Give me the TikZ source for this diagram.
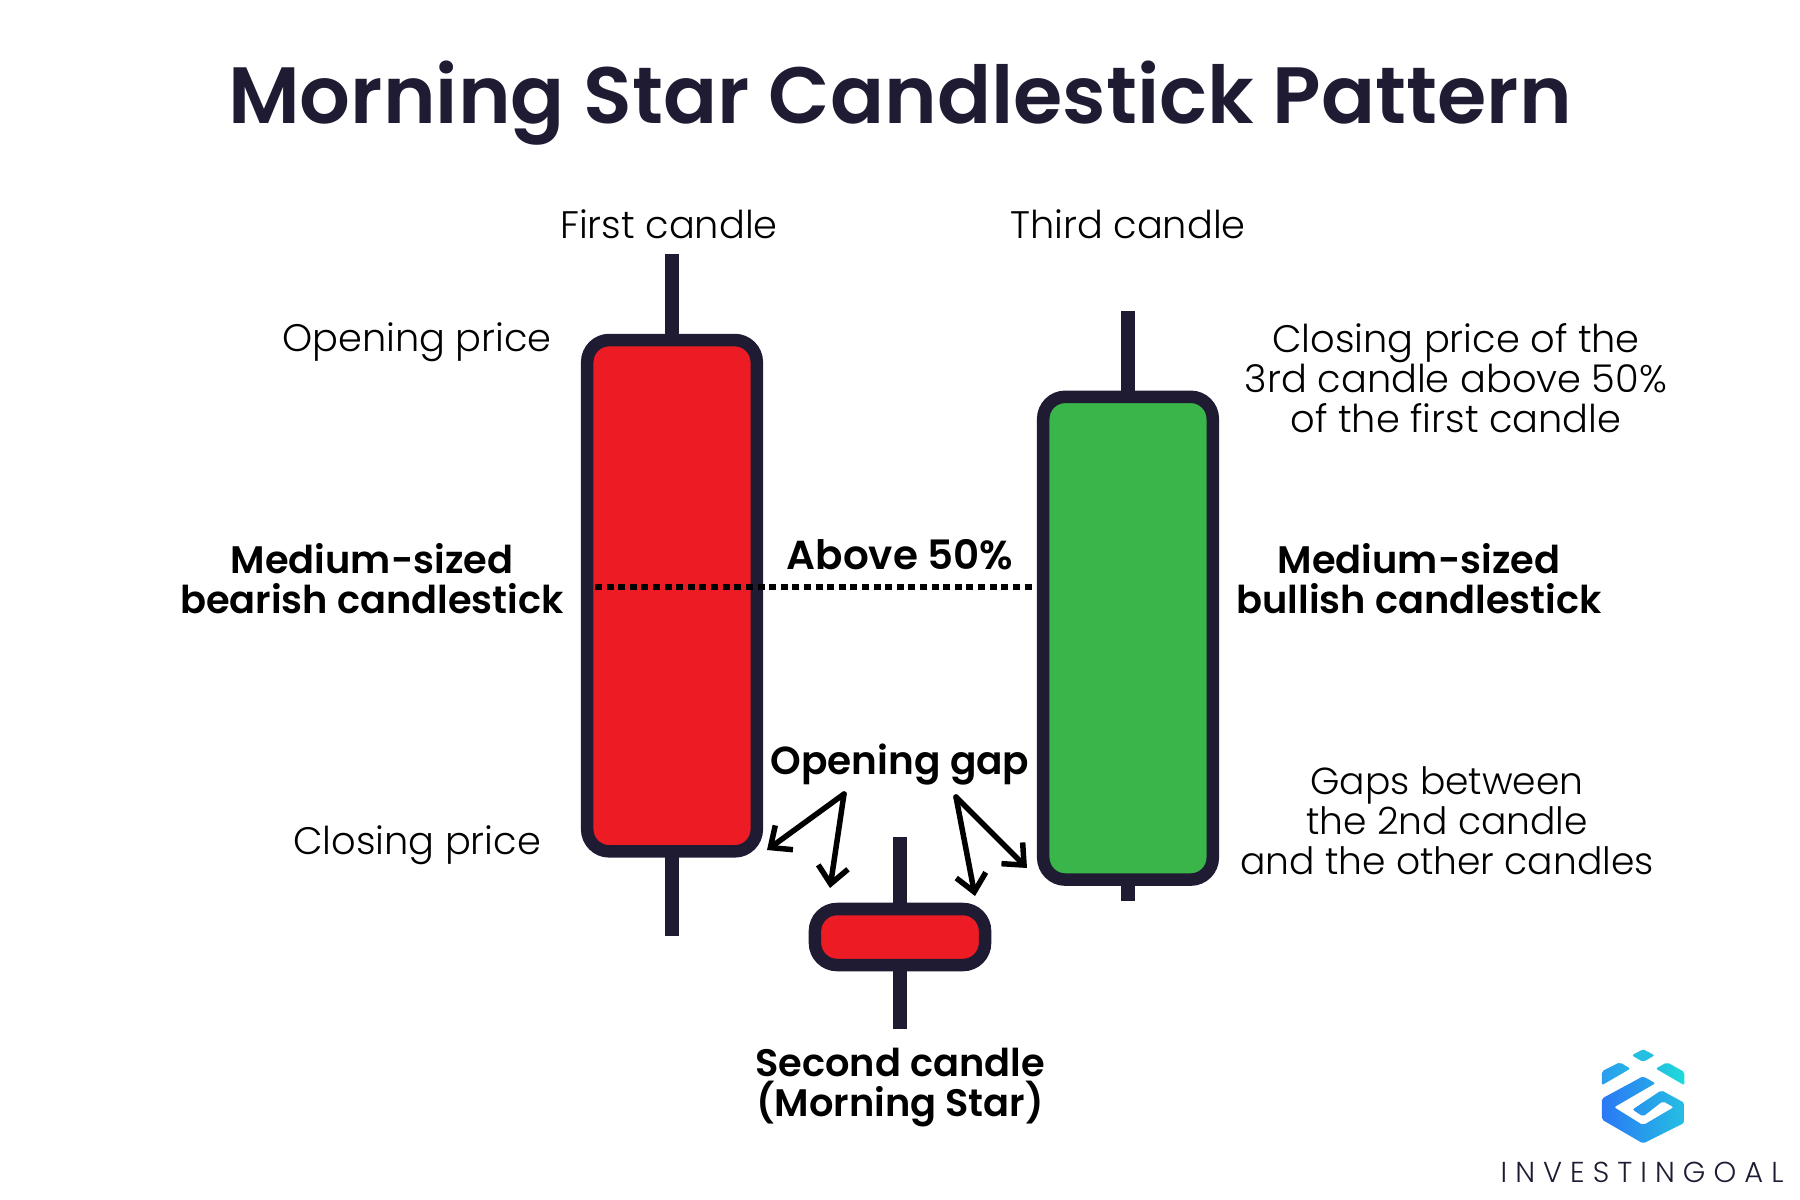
\documentclass[tikz,border=0pt]{standalone}
\usepackage{fontspec}
\setmainfont{Poppins}
\newfontfamily\lightfont{Poppins Light}
\newfontfamily\medfont{Poppins SemiBold}
\newfontfamily\logofont[LetterSpace=28]{Poppins Light}
\usetikzlibrary{arrows.meta}

\definecolor{inkdark}{HTML}{1F1B33}
\definecolor{candlered}{HTML}{ED1C24}
\definecolor{candlegreen}{HTML}{39B54A}
\definecolor{logoblue}{HTML}{2A78F5}
\definecolor{logosky}{HTML}{2A9CEF}
\definecolor{logocyan}{HTML}{25BFE2}
\definecolor{logoteal}{HTML}{1CDCD8}

\tikzset{
  candle/.style={draw=inkdark, line width=0.125cm, rounded corners=0.22cm, inner sep=0pt},
  wick/.style={draw=inkdark, line width=0.14cm},
  plainlabel/.style={align=center, text=black, font=\lightfont\fontsize{10.9}{11.38}\selectfont},
  boldlabel/.style={align=center, text=black, font=\medfont\fontsize{10.9}{11.38}\selectfont},
  gaparrow/.style={draw=black, line width=0.055cm, line cap=round, -{Straight Barb[length=0.17cm,width=0.3cm]}}
}

\begin{document}
\begin{tikzpicture}[x=0.01cm, y=-0.01cm]
  \useasboundingbox (0,0) rectangle (1800,1200);

  % Title
  \node[text=inkdark, font=\medfont\fontsize{22.7}{27}\selectfont] (title) at (900,103)
    {Morning Star Candlestick Pattern};

  % Ends of the wicks
  \coordinate (firsttop) at (672,254);
  \coordinate (firstlow) at (672,936);
  \coordinate (secondtop) at (900,837);
  \coordinate (secondlow) at (900,1029);
  \coordinate (thirdtop) at (1128,311);
  \coordinate (thirdlow) at (1128,901);

  \draw[wick] (firsttop) -- (firstlow);
  \draw[wick] (secondtop) -- (secondlow);
  \draw[wick] (thirdtop) -- (thirdlow);

  % The three candles
  \node[candle, fill=candlered, minimum width=1.695cm, minimum height=5.11cm] (first) at (672,595.7) {};
  \node[candle, fill=candlered, minimum width=1.7cm, minimum height=0.56cm] (second) at (900,937) {};
  \node[candle, fill=candlegreen, minimum width=1.695cm, minimum height=4.825cm] (third) at (1128,638.2) {};

  % The level of 50%
  \coordinate (midstart) at (595,586.5);
  \coordinate (midend) at (1036,586.5);
  \draw[black, line width=0.06cm, dash pattern=on 0.07cm off 0.046cm] (midstart) -- (midend);

  % Labels on top
  \node[plainlabel] (firstname) at (669,224) {First candle};
  \node[plainlabel] (thirdname) at (1128,224) {Third candle};
  \node[plainlabel] (openprice) at (417,342) {Opening price};
  \node[plainlabel] (closeprice) at (417,845) {Closing price};
  \node[plainlabel] (closeabove) at (1456,378) {Closing price of the\\3rd candle above 50\%\\of the first candle};
  \node[plainlabel, font=\lightfont\fontsize{10.7}{11.38}\selectfont] (gapsnote) at (1447,821) {Gaps between\\the 2nd candle\\and the other candles};

  \node[boldlabel] (bearish) at (372,579) {Medium-sized\\bearish candlestick};
  \node[boldlabel] (bullish) at (1419,579) {Medium-sized\\bullish candlestick};
  \node[boldlabel, font=\medfont\fontsize{11.5}{13}\selectfont] (above) at (900,555) {Above 50\%};
  \node[boldlabel, font=\medfont\fontsize{11.1}{13}\selectfont] (gaplabel) at (900,765) {Opening gap};
  \node[boldlabel] (secondname) at (900,1088) {Second candle\\(Morning Star)};

  % Arrows under the gap label
  \coordinate (gapleft) at (844,794);
  \coordinate (gapright) at (956,797);
  \coordinate (toleft) at (767,850);
  \coordinate (tomidleft) at (830,888);
  \coordinate (tomidright) at (975,896);
  \coordinate (toright) at (1027,868);
  \draw[gaparrow] (gapleft) -- (toleft);
  \draw[gaparrow] (gapleft) -- (tomidleft);
  \draw[gaparrow] (gapright) -- (tomidright);
  \draw[gaparrow] (gapright) -- (toright);

  % Logo
  \begin{scope}[shift={(1480,1028)}, x=0.00333cm, y=-0.00333cm, rounded corners=0.02cm]
    \fill[logocyan] (490,64) -- (525,82) -- (490,102) -- (456,82) -- cycle;
    \shade[left color=logosky, right color=logocyan!70!logosky] (366,130) -- (420,103) -- (452,122) -- (366,172) -- cycle;
    \shade[left color=logocyan, right color=logoteal] (528,122) -- (562,103) -- (614,132) -- (614,172) -- cycle;
    \shade[left color=logoblue, right color=logocyan]
      (366,212) -- (490,145) -- (527,166) -- (403,238) -- (490,292) -- (582,238) -- (549,220)
      -- (490,266) -- (458,245) -- (545,187) -- (614,225) -- (614,285) -- (490,347) -- (366,275) -- cycle;
  \end{scope}
  \node[text=inkdark, font=\logofont\fontsize{8.2}{10}\selectfont] (brand) at (1642,1172) {INVESTINGOAL};
\end{tikzpicture}
\end{document}
